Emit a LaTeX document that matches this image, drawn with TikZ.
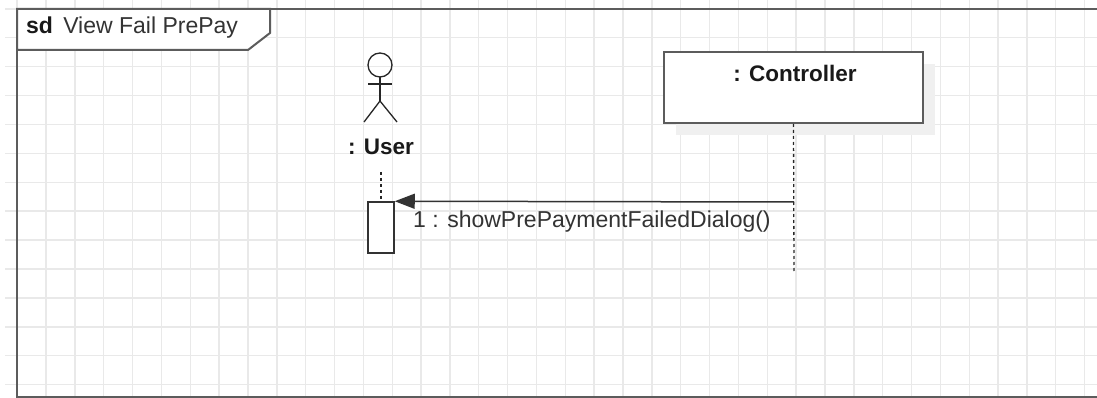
\documentclass[tikz,border=0pt]{standalone}
\usepackage{fontspec}
\setmainfont{Liberation Sans}
\usetikzlibrary{arrows.meta}
\definecolor{gridgray}{HTML}{E9E9E9}
\definecolor{framegray}{HTML}{5C5C5C}
\definecolor{shadowgray}{HTML}{F0F0F0}
\definecolor{textgray}{HTML}{333333}
\tikzset{
    gridline/.style={gridgray, line width=1.4pt},
    frameline/.style={draw=framegray, line width=2pt},
    objbox/.style={draw=framegray, fill=white, line width=2pt, inner sep=0pt,
    	minimum width=259pt, minimum height=71pt},
    actbox/.style={draw=black!80, fill=white, line width=1.5pt, inner sep=0pt,
    	minimum width=26pt, minimum height=51pt},
    actorline/.style={draw=black!85, line width=1.3pt},
    lifeline/.style={black!85, line width=1.3pt, dash pattern=on 3pt off 3pt},
    msg/.style={black!80, line width=1.5pt, -{Triangle[length=20pt,width=15pt]}},
    txt/.style={inner sep=0pt, text=textgray, font=\fontsize{23}{27}\selectfont},
    boldtxt/.style={inner sep=0pt, text=black!90, font=\fontsize{22.5}{27}\selectfont\bfseries}
}

\begin{document}
\begin{tikzpicture}[x=1pt, y=-1pt]
	\useasboundingbox (0,0) rectangle (1097,398);
	\clip (0,0) rectangle (1097,398);
	\fill[white] (0,0) rectangle (1097,398);
	% grid
	\foreach \k in {0,...,37} \draw[gridline] (17.15+28.85*\k,0) -- (17.15+28.85*\k,398);
	\foreach \k in {0,...,13} \draw[gridline] (5,8.9+28.9*\k) -- (1097,8.9+28.9*\k);
	% frame
	\draw[frameline] (17,9) rectangle (1110,397);
	\filldraw[frameline, fill=white] (17,50) -- (248,50) -- (270,33) -- (270,9) -- (17,9) -- cycle;
	\node[txt, anchor=west] (title) at (26,28) {\textcolor{black!90}{\textbf{sd}}\, View Fail PrePay};
	% actor
	\draw[actorline] (380,65) circle (12pt);
	\coordinate (neck) at (380,77);
	\coordinate (hip) at (380,101);
	\draw[actorline] (neck) -- (hip);
	\draw[actorline] (368,84) -- (392,84);
	\draw[actorline] (364,122) -- (hip) -- (397,122);
	\node[boldtxt] (user) at (381,147) {: User};
	% controller
	\fill[shadowgray] (676,64) rectangle (935,135);
	\node[objbox] (ctrl) at (793.5,87.5) {};
	\node[boldtxt] (ctrltitle) at (795,73) {: Controller};
	% lifelines
	\coordinate (userlife) at (381,172);
	\coordinate (ctrlend) at (794,272);
	\coordinate (ctrlmsg) at (794,202);
	\node[actbox] (act) at (381,227.5) {};
	\draw[lifeline] (userlife) -- (act.north);
	\draw[lifeline] (ctrl.south) -- (ctrlend);
	% message
	\draw[msg] (ctrlmsg) -- (act.north east);
	\node[txt, anchor=west] (m1) at (413,222) {1 : showPrePaymentFailedDialog()};
\end{tikzpicture}
\end{document}
